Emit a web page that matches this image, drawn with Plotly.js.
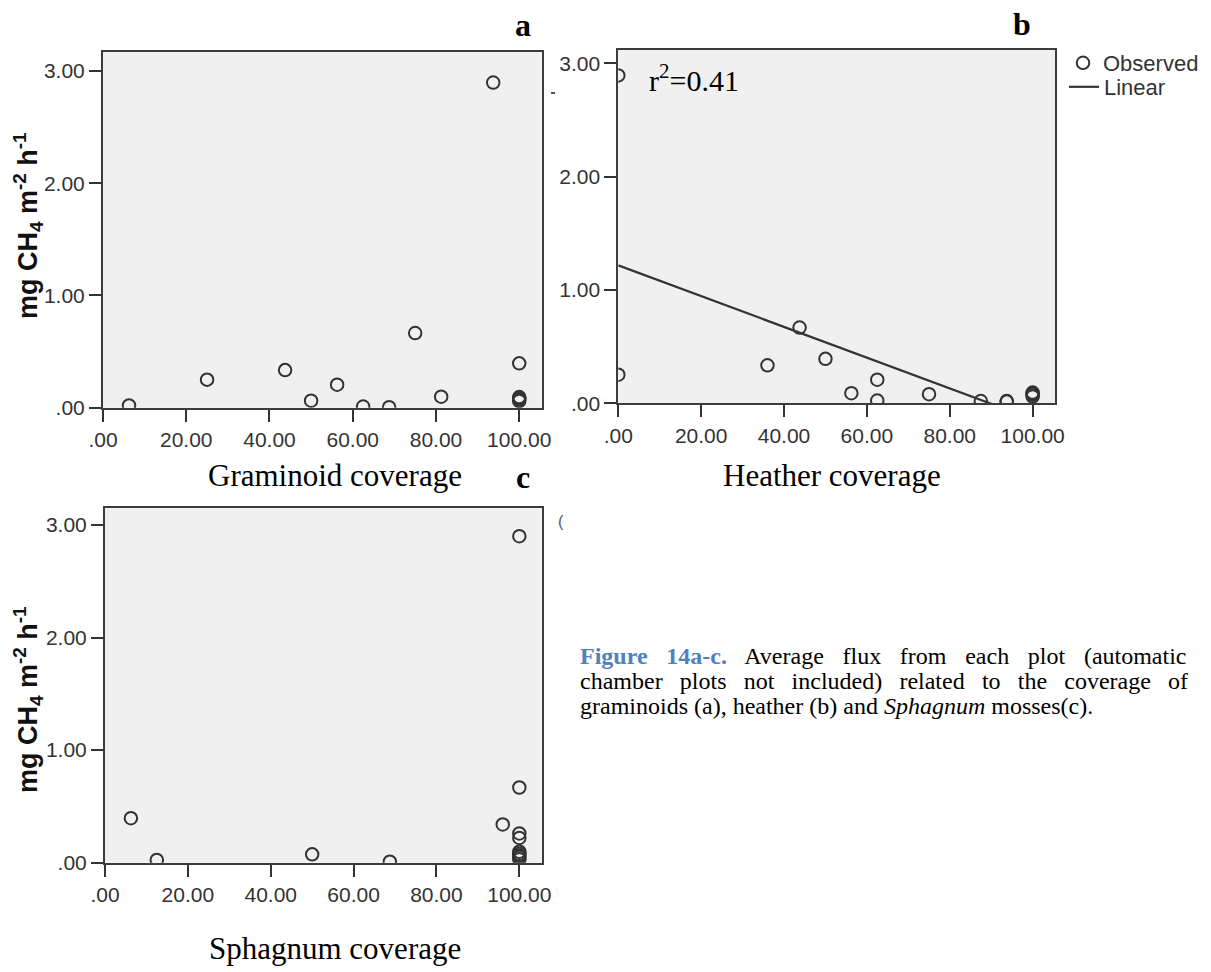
<!DOCTYPE html>
<html>
<head>
<meta charset="utf-8">
<script src="https://cdn.plot.ly/plotly-3.0.1.min.js"></script>
<style>html,body{margin:0;padding:0;background:#fff;}#chart{width:1211px;height:972px;}</style>
</head>
<body>
<div id="chart"></div>
<script>
// ---- data ----
const graminoidCover = [6.25, 25, 43.75, 50, 56.25, 62.5, 68.75, 75, 81.25, 93.75, 100, 100, 100, 100, 100];
const graminoidFlux  = [0.02, 0.25, 0.335, 0.062, 0.205, 0.01, 0.005, 0.665, 0.098, 2.897, 0.395, 0.095, 0.085, 0.075, 0.06];

const heatherCover = [0, 0, 36, 43.75, 50, 56.25, 62.5, 62.5, 75, 87.5, 93.75, 93.75, 100, 100, 100, 100];
const heatherFlux  = [2.893, 0.252, 0.335, 0.668, 0.392, 0.089, 0.208, 0.024, 0.08, 0.02, 0.02, 0.015, 0.095, 0.085, 0.075, 0.06];

const linearCover = [0, 100];
const linearFlux  = [1.217, -0.140];

const sphagnumCover = [6.25, 12.5, 50, 68.75, 96, 100, 100, 100, 100, 100, 100, 100, 100, 100];
const sphagnumFlux  = [0.395, 0.024, 0.074, 0.009, 0.34, 2.90, 0.668, 0.26, 0.22, 0.098, 0.08, 0.065, 0.05, 0.03];

const xTickVals = [0, 20, 40, 60, 80, 100];
const xTickText = [".00", "20.00", "40.00", "60.00", "80.00", "100.00"];
const yTickVals = [0, 1, 2, 3];
const yTickText = [".00", "1.00", "2.00", "3.00"];

const legendNames = ["Observed", "Linear"];
const xTitles = ["Graminoid coverage", "Heather coverage", "Sphagnum coverage"];
const panelLetters = ["a", "b", "c"];
const yTitleText = "mg CH<sub>4</sub> m<sup>-2</sup> h<sup>-1</sup>";
const r2Text = "r<sup>2</sup>=0.41";
const captionLines = [
  "<span style='word-spacing:12.7px'><b><span style='color:#4f81bd'>Figure 14a-c.</span></b> Average flux from each plot (automatic</span>",
  "<span style='word-spacing:11.2px'>chamber plots not included) related to the coverage of</span>",
  "graminoids (a), heather (b) and <i>Sphagnum</i> mosses(c)."
];

// ---- layout helpers (pixel -> paper) ----
const W = 1211, H = 972;
const px = v => v / W;
const py = v => 1 - v / H;

const ink = '#333333';
const frame = '#3c3c3c';
const sans = 'Liberation Sans, Arial, sans-serif';
const serif = 'Liberation Serif, Times New Roman, serif';
const tickFont = {family: sans, size: 21, color: ink};

function xAxis(l, r, anchor) {
  return {
    domain: [px(l), px(r)], anchor: anchor, range: [0, 105.4],
    tickmode: 'array', tickvals: xTickVals, ticktext: xTickText,
    ticks: 'outside', ticklen: 12, tickwidth: 2, tickcolor: ink,
    showline: true, linecolor: frame, linewidth: 2, mirror: true,
    showgrid: false, zeroline: false, tickfont: tickFont, fixedrange: true
  };
}
function yAxis(top, bottom, rmax, anchor) {
  return {
    domain: [py(bottom), py(top)], anchor: anchor, range: [0, rmax],
    tickmode: 'array', tickvals: yTickVals, ticktext: yTickText,
    ticks: 'outside', ticklen: 12, tickwidth: 2, tickcolor: ink,
    showline: true, linecolor: frame, linewidth: 2, mirror: true,
    showgrid: false, zeroline: false, tickfont: tickFont, fixedrange: true
  };
}

const marker = {symbol: 'circle-open', size: 12.5, color: ink, line: {width: 2, color: ink}};

const traces = [
  {x: graminoidCover, y: graminoidFlux, xaxis: 'x', yaxis: 'y', type: 'scatter', mode: 'markers',
   marker: marker, showlegend: false, hoverinfo: 'skip'},
  {x: heatherCover, y: heatherFlux, xaxis: 'x2', yaxis: 'y2', type: 'scatter', mode: 'markers',
   marker: marker, name: legendNames[0], showlegend: true, legend: 'legend', hoverinfo: 'skip'},
  {x: linearCover, y: linearFlux, xaxis: 'x2', yaxis: 'y2', type: 'scatter', mode: 'lines',
   line: {color: ink, width: 2.2}, name: legendNames[1], showlegend: true, legend: 'legend2', hoverinfo: 'skip'},
  {x: sphagnumCover, y: sphagnumFlux, xaxis: 'x3', yaxis: 'y3', type: 'scatter', mode: 'markers',
   marker: marker, showlegend: false, hoverinfo: 'skip'}
];

const ann = [];
function addText(text, x, y, opts) {
  ann.push(Object.assign({text: text, x: px(x), y: py(y), xref: 'paper', yref: 'paper',
    showarrow: false, xanchor: 'center', yanchor: 'middle'}, opts));
}
// y-axis titles
const yTitleFont = {family: sans, size: 27, color: '#111'};
addText('<b>' + yTitleText + '</b>', 28, 226, {textangle: -90, font: yTitleFont});
addText('<b>' + yTitleText + '</b>', 28, 700, {textangle: -90, font: yTitleFont});
// x-axis titles
const xTitleFont = {family: serif, size: 31, color: '#000'};
addText(xTitles[0], 335, 475, {font: xTitleFont});
addText(xTitles[1], 832, 475, {font: xTitleFont});
addText(xTitles[2], 335, 948, {font: xTitleFont});
// panel letters
const letterFont = {family: serif, size: 32, color: '#000'};
addText('<b>' + panelLetters[0] + '</b>', 523, 25, {font: letterFont});
addText('<b>' + panelLetters[1] + '</b>', 1022, 24, {font: letterFont});
addText('<b>' + panelLetters[2] + '</b>', 523, 477, {font: letterFont});
// r^2
addText(r2Text, 647, 78, {xanchor: 'left', font: {family: serif, size: 30, color: '#000'}});
// caption
const capFont = {family: serif, size: 24, color: '#000'};
addText(captionLines[0], 578, 656, {xanchor: 'left', font: capFont});
addText(captionLines[1], 578, 681, {xanchor: 'left', font: capFont});
addText(captionLines[2], 578, 706, {xanchor: 'left', font: capFont});
// cropped remnants at panel edges
addText('(', 561, 521, {font: {family: sans, size: 16, color: '#555'}});

const legendFont = {family: sans, size: 22, color: ink};
const layout = {
  width: W, height: H, autosize: false,
  margin: {l: 0, r: 0, t: 0, b: 0, pad: 0},
  paper_bgcolor: '#ffffff', plot_bgcolor: '#f0f0f0',
  xaxis: xAxis(103, 541.7, 'y'),
  yaxis: yAxis(52, 407.7, 3.169, 'x'),
  xaxis2: xAxis(618.3, 1055, 'y2'),
  yaxis2: yAxis(50, 403.3, 3.117, 'x2'),
  xaxis3: xAxis(105, 541.7, 'y3'),
  yaxis3: yAxis(508.3, 862.7, 3.148, 'x3'),
  showlegend: true,
  legend: {x: px(1063), y: py(42), xanchor: 'left', yanchor: 'top', font: legendFont,
    bgcolor: 'rgba(0,0,0,0)', borderwidth: 0, tracegroupgap: 0},
  legend2: {x: px(1064), y: py(66), xanchor: 'left', yanchor: 'top', font: legendFont,
    bgcolor: 'rgba(0,0,0,0)', borderwidth: 0, tracegroupgap: 0},
  annotations: ann,
  shapes: [
    {type: 'line', xref: 'paper', yref: 'paper', x0: px(551), x1: px(555), y0: py(93), y1: py(93),
     line: {color: '#555', width: 2}}
  ]
};

Plotly.newPlot('chart', traces, layout, {displayModeBar: false, staticPlot: true});
</script>
</body>
</html>
